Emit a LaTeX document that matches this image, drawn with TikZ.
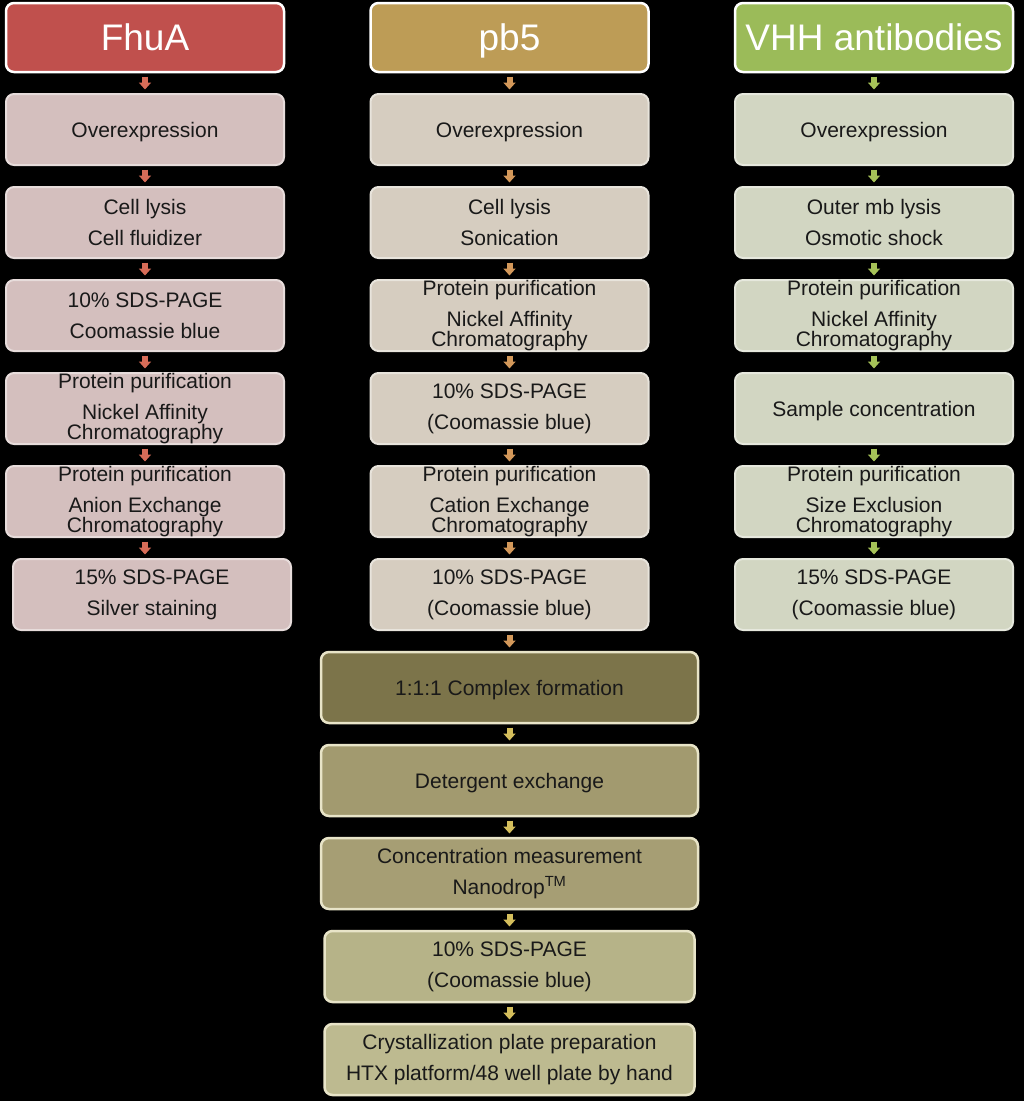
\documentclass[tikz,border=0pt]{standalone}
\usepackage{xcolor}
\usepackage{fontspec}
\setmainfont{Liberation Sans}
\usetikzlibrary{positioning,arrows.meta}

\definecolor{fhuatitle}{RGB}{192,80,77}
\definecolor{pbtitle}{RGB}{189,156,86}
\definecolor{vhhtitle}{RGB}{155,187,89}
\definecolor{fhuastep}{RGB}{212,191,190}
\definecolor{pbstep}{RGB}{214,205,192}
\definecolor{vhhstep}{RGB}{210,214,194}
\definecolor{fhuarrow}{RGB}{215,108,88}
\definecolor{pbarrow}{RGB}{211,152,90}
\definecolor{vhharrow}{RGB}{166,194,88}
\definecolor{joinarrow}{RGB}{212,190,92}
\definecolor{joinA}{RGB}{124,116,74}
\definecolor{joinB}{RGB}{162,154,111}
\definecolor{joinC}{RGB}{166,158,116}
\definecolor{joinD}{RGB}{182,179,136}
\definecolor{joinE}{RGB}{189,186,144}
\definecolor{joinline}{RGB}{232,228,200}

\tikzset{
	title/.style = {draw=white, line width=2.5pt, rounded corners=8pt,
		minimum width=278pt, minimum height=69pt, inner sep=2pt, outer sep=0pt,
		text height=30pt, text depth=5pt,
		text=white, font=\fontsize{37}{40}\selectfont},
	stepbox/.style = {line width=2pt, rounded corners=8pt,
		minimum width=278pt, minimum height=71pt, inner xsep=2pt, inner ysep=0pt, outer sep=0pt,
		align=center, text=black!90, font=\fontsize{21}{31}\selectfont},
	oneline/.style = {text height=15pt, text depth=0pt},
	fhuabox/.style = {stepbox, fill=fhuastep, draw=fhuastep!55!white},
	pbbox/.style = {stepbox, fill=pbstep, draw=pbstep!55!white},
	vhhbox/.style = {stepbox, fill=vhhstep, draw=vhhstep!55!white},
	joinbox/.style = {stepbox, draw=joinline, line width=2.5pt, minimum width=377pt},
	flow/.style = {line width=6pt, -{Triangle[width=12pt,length=7pt]},
		shorten <=4.5pt, shorten >=4.5pt}
}

\begin{document}
\begin{tikzpicture}[x=1pt, y=-1pt, node distance=22pt]
	% black page
	\fill[black] (0,0) rectangle (1024,1101);
	\useasboundingbox (0,0) rectangle (1024,1101);
	
	% FhuA column
	\node[title, fill=fhuatitle] (fhua) at (145,37.5) {FhuA};
	\node[fhuabox, oneline, below=of fhua] (fover) {Overexpression};
	\node[fhuabox, below=of fover] (flysis) {Cell lysis\\Cell fluidizer};
	\node[fhuabox, below=of flysis] (fsds) {10\% SDS-PAGE\\Coomassie blue};
	\node[fhuabox, below=of fsds] (fnick) {Protein purification\\Nickel Affinity\\[-11pt]Chromatography};
	\node[fhuabox, below=of fnick] (fanion) {Protein purification\\Anion Exchange\\[-11pt]Chromatography};
	\node[fhuabox, below=of fanion, xshift=7pt] (fsilver) {15\% SDS-PAGE\\Silver staining};
	
	% pb5 column
	\node[title, fill=pbtitle] (pb) at (509.5,37.5) {pb5};
	\node[pbbox, oneline, below=of pb] (pover) {Overexpression};
	\node[pbbox, below=of pover] (plysis) {Cell lysis\\Sonication};
	\node[pbbox, below=of plysis] (pnick) {Protein purification\\Nickel Affinity\\[-11pt]Chromatography};
	\node[pbbox, below=of pnick] (psds) {10\% SDS-PAGE\\(Coomassie blue)};
	\node[pbbox, below=of psds] (pcation) {Protein purification\\Cation Exchange\\[-11pt]Chromatography};
	\node[pbbox, below=of pcation] (psdsb) {10\% SDS-PAGE\\(Coomassie blue)};
	
	% VHH column
	\node[title, fill=vhhtitle] (vhh) at (874,37.5) {VHH antibodies};
	\node[vhhbox, oneline, below=of vhh] (vover) {Overexpression};
	\node[vhhbox, below=of vover] (vlysis) {Outer mb lysis\\Osmotic shock};
	\node[vhhbox, below=of vlysis] (vnick) {Protein purification\\Nickel Affinity\\[-11pt]Chromatography};
	\node[vhhbox, oneline, below=of vnick] (vconc) {Sample concentration};
	\node[vhhbox, below=of vconc] (vsize) {Protein purification\\Size Exclusion\\[-11pt]Chromatography};
	\node[vhhbox, below=of vsize] (vsds) {15\% SDS-PAGE\\(Coomassie blue)};
	
	% joint steps
	\node[joinbox, oneline, fill=joinA, below=of psdsb] (complex) {1:1:1 Complex formation};
	\node[joinbox, oneline, fill=joinB, below=of complex] (deterg) {Detergent exchange};
	\node[joinbox, fill=joinC, below=of deterg] (measure) {Concentration measurement\\Nanodrop\textsuperscript{TM}};
	\node[joinbox, fill=joinD, minimum width=370pt, below=of measure] (jsds) {10\% SDS-PAGE\\(Coomassie blue)};
	\node[joinbox, fill=joinE, minimum width=370pt, below=of jsds] (crystal) {Crystallization plate preparation\\HTX platform/48 well plate by hand};
	
	% arrows
	\foreach \a/\b in {fhua/fover, fover/flysis, flysis/fsds, fsds/fnick, fnick/fanion}
		\draw[flow, fhuarrow] (\a.south) -- (\b.north);
	\draw[flow, fhuarrow] (fanion.south) -- (fanion.south |- fsilver.north);
	\foreach \a/\b in {pb/pover, pover/plysis, plysis/pnick, pnick/psds, psds/pcation, pcation/psdsb, psdsb/complex}
		\draw[flow, pbarrow] (\a.south) -- (\b.north);
	\foreach \a/\b in {vhh/vover, vover/vlysis, vlysis/vnick, vnick/vconc, vconc/vsize, vsize/vsds}
		\draw[flow, vhharrow] (\a.south) -- (\b.north);
	\foreach \a/\b in {complex/deterg, deterg/measure, measure/jsds, jsds/crystal}
		\draw[flow, joinarrow] (\a.south) -- (\b.north);
	
\end{tikzpicture}
\end{document}
